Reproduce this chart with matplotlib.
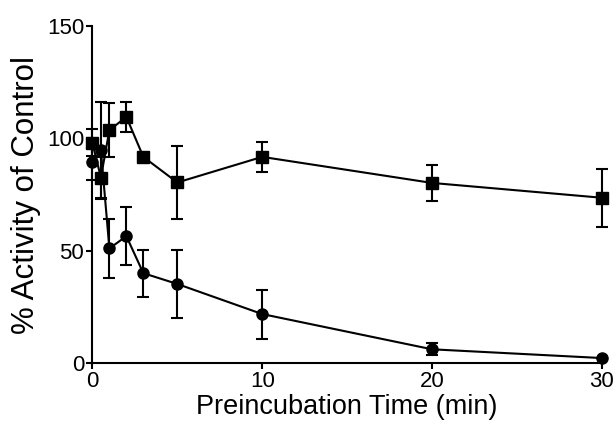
import matplotlib
matplotlib.use("Agg")
import matplotlib.pyplot as plt

time_sq = [0, 0.5, 1, 2, 3, 5, 10, 20, 30]
act_sq = [98.0, 82.6, 103.7, 109.6, 91.8, 80.4, 91.8, 80.2, 73.6]
err_sq = [6.0, 9.0, 12.0, 6.7, 0.0, 16.3, 6.7, 8.2, 13.0]

time_ci = [0, 0.5, 1, 2, 3, 5, 10, 20, 30]
act_ci = [89.6, 94.8, 51.0, 56.5, 40.0, 35.2, 21.8, 6.1, 2.2]
err_ci = [8.0, 21.6, 13.0, 12.8, 10.5, 15.2, 10.9, 2.6, 0.0]

xticks = [0, 10, 20, 30]
yticks = [0, 50, 100, 150]

plt.rcParams['font.family'] = ['Liberation Sans', 'DejaVu Sans']

fig = plt.figure(figsize=(6.16, 4.34), dpi=100)
ax = fig.add_axes([0.150, 0.1636, 0.827, 0.776])

common = dict(color='black', lw=1.5, elinewidth=1.5, capsize=4.5, capthick=1.5, clip_on=False)
ax.errorbar(time_sq, act_sq, yerr=err_sq, marker='s', ms=8.5, **common)
ax.errorbar(time_ci, act_ci, yerr=err_ci, marker='o', ms=8, **common)

ax.set_xlim(0, 30)
ax.set_ylim(0, 150)
ax.set_xticks(xticks)
ax.set_yticks(yticks)
ax.spines['top'].set_visible(False)
ax.spines['right'].set_visible(False)
for s in ['left', 'bottom']:
    ax.spines[s].set_linewidth(1.5)
ax.tick_params(direction='out', length=4.5, width=1.5, labelsize=16, pad=1.5)
ax.set_xlabel('Preincubation Time (min)', fontsize=19.5, labelpad=1)
ax.set_ylabel('% Activity of Control', fontsize=22.5, labelpad=4)

fig.savefig('out.png', dpi=100)
